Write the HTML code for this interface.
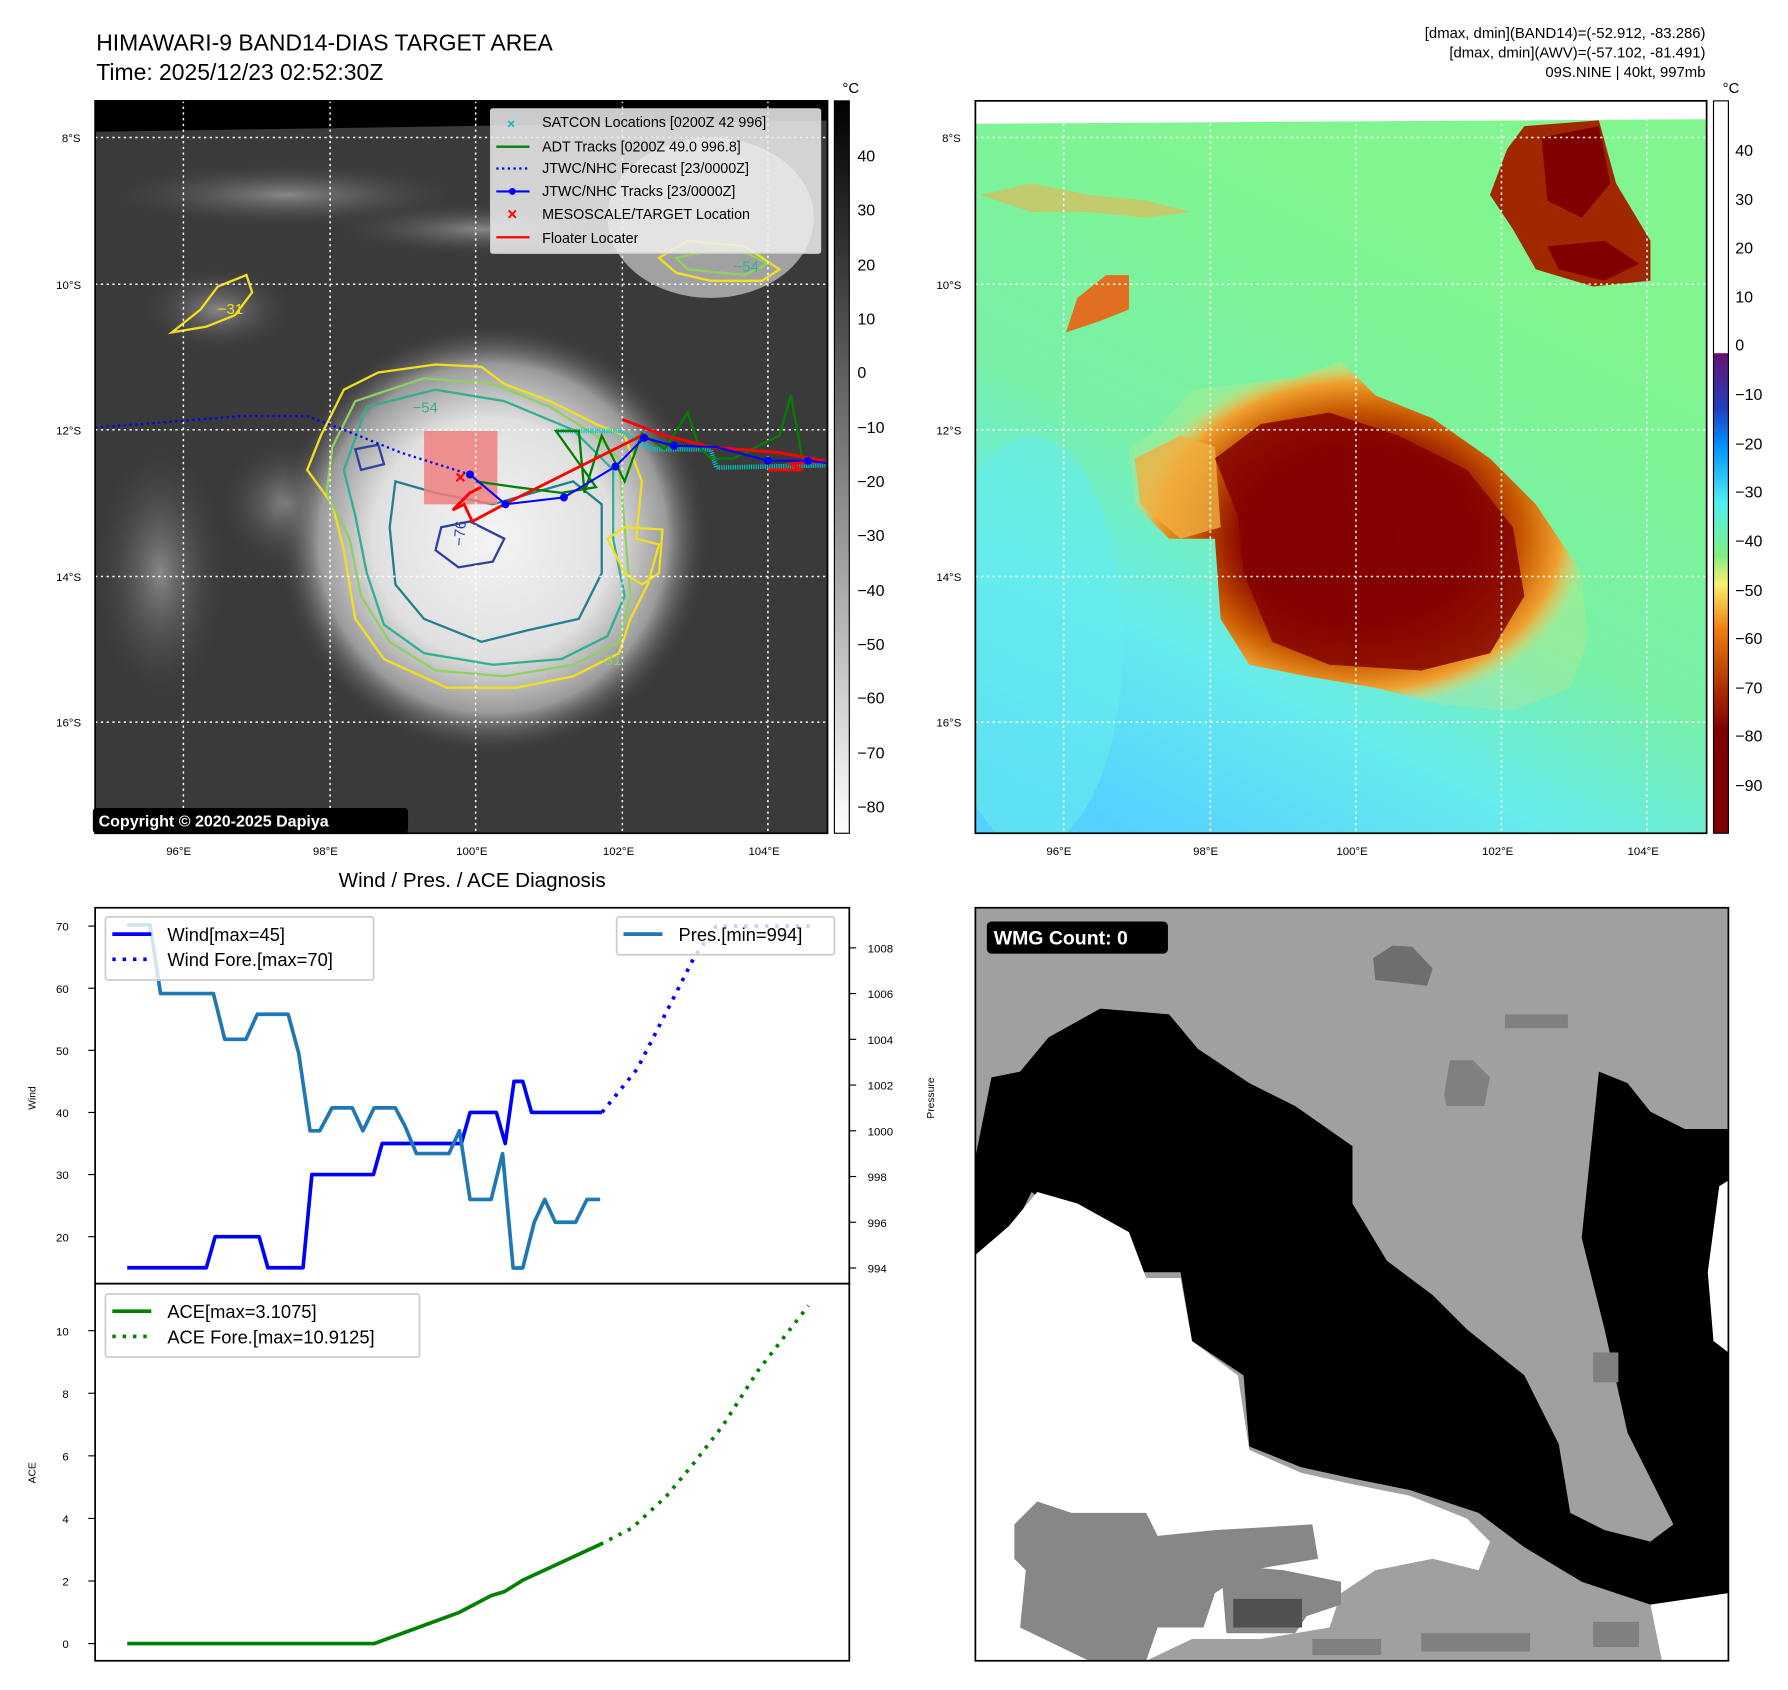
<!DOCTYPE html>
<html><head><meta charset="utf-8"><style>
html,body{margin:0;padding:0;background:#fff;}
svg{display:block;font-family:"Liberation Sans","DejaVu Sans",sans-serif;}
</style></head><body>
<svg id="root" width="1788" height="1690" viewBox="0 0 1560 1474.5" preserveAspectRatio="none" xmlns="http://www.w3.org/2000/svg">
<defs>
<clipPath id="cl1"><rect x="83" y="88" width="639" height="639"/></clipPath>
<clipPath id="cl2"><rect x="851" y="88" width="638" height="639"/></clipPath>
<radialGradient id="storm1" cx="0.5" cy="0.5" r="0.5">
<stop offset="0" stop-color="#f4f4f4"/><stop offset="0.55" stop-color="#e0e0e0"/><stop offset="0.8" stop-color="#9a9a9a"/><stop offset="1" stop-color="#3a3a3a" stop-opacity="0"/></radialGradient>
<radialGradient id="cloud1" cx="0.5" cy="0.5" r="0.5">
<stop offset="0" stop-color="#888"/><stop offset="1" stop-color="#3a3a3a" stop-opacity="0"/></radialGradient>
<linearGradient id="bg2" x1="0.6" y1="0.2" x2="0.2" y2="1">
<stop offset="0" stop-color="#80f590"/><stop offset="0.45" stop-color="#78f0a8"/><stop offset="0.7" stop-color="#66ecec"/><stop offset="1" stop-color="#55d0ff"/></linearGradient>
<radialGradient id="storm2" cx="0.5" cy="0.5" r="0.5">
<stop offset="0" stop-color="#800000"/><stop offset="0.5" stop-color="#8a0500"/><stop offset="0.72" stop-color="#c85a00"/><stop offset="0.88" stop-color="#f0a030"/><stop offset="1" stop-color="#f8e070" stop-opacity="0.2"/></radialGradient>
<linearGradient id="cb1" x1="0" y1="0" x2="0" y2="1"><stop offset="0" stop-color="#000"/><stop offset="1" stop-color="#fff"/></linearGradient>
<linearGradient id="cb2" x1="0" y1="0" x2="0" y2="1">
<stop offset="0" stop-color="#fff"/><stop offset="0.344" stop-color="#fff"/><stop offset="0.345" stop-color="#6a1070"/><stop offset="0.42" stop-color="#2040c0"/><stop offset="0.47" stop-color="#0090ff"/><stop offset="0.55" stop-color="#50f0f0"/><stop offset="0.62" stop-color="#80f080"/><stop offset="0.66" stop-color="#f8f070"/><stop offset="0.72" stop-color="#f08010"/><stop offset="0.8" stop-color="#b03000"/><stop offset="0.86" stop-color="#800000"/><stop offset="1" stop-color="#800000"/></linearGradient>
</defs>

<text x="84" y="44" font-size="20">HIMAWARI-9 BAND14-DIAS TARGET AREA</text>
<text x="84" y="70" font-size="20">Time: 2025/12/23 02:52:30Z</text>
<g font-size="13" text-anchor="end">
<text x="1488" y="33">[dmax, dmin](BAND14)=(-52.912, -83.286)</text>
<text x="1488" y="50">[dmax, dmin](AWV)=(-57.102, -81.491)</text>
<text x="1488" y="67">09S.NINE | 40kt, 997mb</text>
</g>

<!-- LEFT MAP -->
<g clip-path="url(#cl1)">
<rect x="83" y="88" width="639" height="639" fill="#3a3a3a"/>
<polygon points="83,88 722,88 722,105 83,115" fill="#000"/>
<ellipse cx="250" cy="170" rx="170" ry="30" fill="url(#cloud1)"/>
<ellipse cx="190" cy="270" rx="70" ry="40" fill="url(#cloud1)"/>
<ellipse cx="420" cy="200" rx="140" ry="25" fill="url(#cloud1)"/>
<ellipse cx="620" cy="190" rx="90" ry="70" fill="#bbb" opacity="0.8"/>
<ellipse cx="140" cy="500" rx="60" ry="120" fill="url(#cloud1)"/>
<ellipse cx="250" cy="440" rx="60" ry="60" fill="url(#cloud1)"/>
<ellipse cx="430" cy="470" rx="190" ry="190" fill="url(#storm1)"/>
<g fill="none" stroke-width="2">
<path d="M300,340 L330,325 L380,318 L420,320 L440,335 L480,350 L520,370 L545,380 L560,420 L555,470 L575,475 L565,510 L550,540 L540,570 L500,590 L450,600 L390,600 L335,575 L310,540 L300,480 L290,440 L268,410 L280,380 Z" stroke="#f0e020"/>
<path d="M310,350 L370,330 L430,335 L480,355 L520,380 L540,400 L545,460 L550,520 L540,560 L500,580 L440,590 L380,585 L340,560 L315,520 L305,470 L285,430 L290,390 Z" stroke="#90d060"/>
<path d="M320,355 L380,340 L440,350 L500,375 L535,410 L535,470 L545,520 L530,555 L490,575 L430,580 L370,570 L335,545 L320,500 L310,450 L300,410 Z" stroke="#30b090"/>
<path d="M345,420 L380,430 L430,440 L500,420 L525,440 L525,500 L505,540 L460,550 L420,560 L370,540 L345,510 L340,460 Z" stroke="#208090"/>
<path d="M385,460 L410,455 L440,470 L430,490 L400,495 L380,480 Z" stroke="#3040a0"/>
<path d="M310,392 L330,388 L335,405 L315,410 Z" stroke="#3040a0"/>
<path d="M575,225 L600,210 L650,215 L680,235 L665,245 L620,245 L590,238 Z" stroke="#f0e020"/>
<path d="M590,225 L640,215 L670,230 L650,240 L600,235 Z" stroke="#90d060"/>
<path d="M150,290 L175,270 L190,250 L215,240 L220,255 L205,275 L180,285 Z" stroke="#f0e020"/>
<path d="M530,470 L545,460 L578,462 L575,500 L560,510 L545,500 Z" stroke="#f0e020"/>
</g>
<g font-size="13" fill="#30b090">
<text x="360" y="360">−54</text><text x="640" y="237">−54</text><text x="190" y="274" fill="#f0e020">−31</text><text x="520" y="580" fill="#90d060">−31</text><text x="380" y="490" fill="#3040a0" transform="rotate(-85 385 470)">−76</text>
</g>
<rect x="370" y="376" width="64" height="64" fill="#f08080" opacity="0.85"/>
<g stroke="#fff" stroke-width="1.3" stroke-dasharray="2,3">
<line x1="160" y1="88" x2="160" y2="727"/><line x1="288" y1="88" x2="288" y2="727"/><line x1="415" y1="88" x2="415" y2="727"/><line x1="543" y1="88" x2="543" y2="727"/><line x1="670" y1="88" x2="670" y2="727"/>
<line x1="83" y1="120" x2="722" y2="120"/><line x1="83" y1="248" x2="722" y2="248"/><line x1="83" y1="375" x2="722" y2="375"/><line x1="83" y1="503" x2="722" y2="503"/><line x1="83" y1="630" x2="722" y2="630"/>
</g>
<polyline points="83,373 150,368 210,363 268,363 300,375 350,395 410,414" fill="none" stroke="#0000ff" stroke-width="2" stroke-dasharray="2,3"/>
<polyline points="485,376 540,376 570,392 620,392 625,408 720,406" fill="none" stroke="#00c8c8" stroke-width="4" stroke-dasharray="1,1"/>
<polyline points="415,420 450,425 490,430 520,425 485,376 505,376 510,430 525,380 545,420 560,378 580,392 600,360 610,390 620,400 640,400 680,380 690,345 700,400 720,402" fill="none" stroke="#008000" stroke-width="2"/>
<polyline points="543,366 580,380 620,390 680,395 720,402 690,405 700,410 670,410" fill="none" stroke="#ff0000" stroke-width="2.5"/>
<polyline points="560,380 480,420 440,440 412,455 405,440 395,445 410,430 420,425" fill="none" stroke="#ff0000" stroke-width="2.5"/>
<polyline points="410,414 441,440 492,434 537,407 562,382 588,389 625,390 670,402 705,402 722,404" fill="none" stroke="#0000ff" stroke-width="1.8"/>
<g fill="#0000ff"><circle cx="410" cy="414" r="3.5"/><circle cx="441" cy="440" r="3.5"/><circle cx="492" cy="434" r="3.5"/><circle cx="537" cy="407" r="3.5"/><circle cx="562" cy="382" r="3.5"/><circle cx="588" cy="389" r="3.5"/><circle cx="670" cy="402" r="3.5"/><circle cx="705" cy="402" r="3.5"/></g>
<text x="397" y="422" fill="#ff0000" font-size="16" font-weight="bold">×</text>
</g>
<rect x="83" y="88" width="639" height="639" fill="none" stroke="#000" stroke-width="1.5"/>
<g font-size="12.5">
<rect x="428" y="95" width="288" height="126" fill="#eee" fill-opacity="0.85" stroke="#ccc" rx="2"/>
<text x="446" y="112" fill="#00c0c0" font-size="12" font-weight="bold" text-anchor="middle">×</text><text x="473" y="111">SATCON Locations [0200Z 42 996]</text>
<line x1="433" y1="128" x2="462" y2="128" stroke="#008000" stroke-width="2"/><text x="473" y="132">ADT Tracks [0200Z 49.0 996.8]</text>
<line x1="433" y1="147" x2="462" y2="147" stroke="#00f" stroke-width="2" stroke-dasharray="2,3"/><text x="473" y="151">JTWC/NHC Forecast [23/0000Z]</text>
<line x1="433" y1="167" x2="462" y2="167" stroke="#00f" stroke-width="1.8"/><circle cx="447" cy="167" r="3" fill="#00f"/><text x="473" y="171">JTWC/NHC Tracks [23/0000Z]</text>
<text x="447" y="192" fill="#f00" font-size="15" font-weight="bold" text-anchor="middle">×</text><text x="473" y="191">MESOSCALE/TARGET Location</text>
<line x1="433" y1="207" x2="462" y2="207" stroke="#f00" stroke-width="2"/><text x="473" y="212">Floater Locater</text>
</g>
<rect x="81" y="705" width="275" height="22" rx="3" fill="#000"/>
<text x="86" y="721" fill="#fff" font-size="14" font-weight="bold">Copyright © 2020-2025 Dapiya</text>
<g font-size="10">
<text x="54" y="124">8°S</text><text x="49" y="252">10°S</text><text x="49" y="379">12°S</text><text x="49" y="507">14°S</text><text x="49" y="634">16°S</text>
<text x="145" y="746">96°E</text><text x="273" y="746">98°E</text><text x="398" y="746">100°E</text><text x="526" y="746">102°E</text><text x="653" y="746">104°E</text>
</g>
<rect x="728" y="88" width="13" height="639" fill="url(#cb1)" stroke="#000"/>
<text x="735" y="81" font-size="13">°C</text>
<g font-size="14">
<text x="748" y="141">40</text><text x="748" y="188">30</text><text x="748" y="236">20</text><text x="748" y="283">10</text><text x="748" y="330">0</text><text x="748" y="378">−10</text><text x="748" y="425">−20</text><text x="748" y="472">−30</text><text x="748" y="520">−40</text><text x="748" y="567">−50</text><text x="748" y="614">−60</text><text x="748" y="662">−70</text><text x="748" y="709">−80</text>
</g>

<!-- RIGHT MAP -->
<g clip-path="url(#cl2)">
<rect x="851" y="88" width="638" height="639" fill="url(#bg2)"/>
<polygon points="851,88 1489,88 1489,104 851,108" fill="#fff"/>
<ellipse cx="900" cy="560" rx="80" ry="180" fill="#66ecec" opacity="0.6"/>
<path d="M985,390 L1010,375 L1040,340 L1080,335 L1130,330 L1170,315 L1200,345 L1250,365 L1300,400 L1340,440 L1380,500 L1385,560 L1370,600 L1320,620 L1260,615 L1200,600 L1140,590 L1090,580 L1065,540 L1060,470 L1020,470 L990,440 Z" fill="url(#storm2)"/>
<path d="M990,400 L1030,380 L1060,390 L1065,460 L1030,470 L995,440 Z" fill="#f0b040" opacity="0.8"/>
<path d="M1060,400 L1100,370 L1160,360 L1220,380 L1280,410 L1320,460 L1330,520 L1300,570 L1240,585 L1160,580 L1110,560 L1085,500 L1080,450 Z" fill="#840200" opacity="0.85"/>
<path d="M1330,110 L1395,105 L1410,160 L1440,210 L1440,245 L1390,250 L1340,235 L1320,200 L1300,170 L1315,130 Z" fill="#a02800"/>
<path d="M1345,120 L1395,110 L1405,160 L1380,190 L1350,175 Z" fill="#800000"/>
<path d="M1350,215 L1400,210 L1430,230 L1400,245 L1360,235 Z" fill="#800000"/>
<path d="M940,260 L965,240 L985,240 L985,270 L960,280 L930,290 Z" fill="#e07020"/>
<path d="M855,170 L900,160 L950,170 L1000,175 L1040,185 L1000,190 L950,185 L900,185 Z" fill="#f0b050" opacity="0.6"/>
<g stroke="#fff" stroke-width="1.3" stroke-dasharray="2,3">
<line x1="928" y1="88" x2="928" y2="727"/><line x1="1056" y1="88" x2="1056" y2="727"/><line x1="1183" y1="88" x2="1183" y2="727"/><line x1="1310" y1="88" x2="1310" y2="727"/><line x1="1437" y1="88" x2="1437" y2="727"/>
<line x1="851" y1="120" x2="1489" y2="120"/><line x1="851" y1="248" x2="1489" y2="248"/><line x1="851" y1="375" x2="1489" y2="375"/><line x1="851" y1="503" x2="1489" y2="503"/><line x1="851" y1="630" x2="1489" y2="630"/>
</g>
</g>
<rect x="851" y="88" width="638" height="639" fill="none" stroke="#000" stroke-width="1.5"/>
<g font-size="10">
<text x="822" y="124">8°S</text><text x="817" y="252">10°S</text><text x="817" y="379">12°S</text><text x="817" y="507">14°S</text><text x="817" y="634">16°S</text>
<text x="913" y="746">96°E</text><text x="1041" y="746">98°E</text><text x="1166" y="746">100°E</text><text x="1293" y="746">102°E</text><text x="1420" y="746">104°E</text>
</g>
<rect x="1495" y="88" width="13" height="639" fill="url(#cb2)" stroke="#000"/>
<text x="1503" y="81" font-size="13">°C</text>
<g font-size="14">
<text x="1514" y="136">40</text><text x="1514" y="179">30</text><text x="1514" y="221">20</text><text x="1514" y="264">10</text><text x="1514" y="306">0</text><text x="1514" y="349">−10</text><text x="1514" y="392">−20</text><text x="1514" y="434">−30</text><text x="1514" y="477">−40</text><text x="1514" y="520">−50</text><text x="1514" y="562">−60</text><text x="1514" y="605">−70</text><text x="1514" y="647">−80</text><text x="1514" y="690">−90</text>
</g>

<!-- WMG panel -->
<g>
<rect x="851" y="792" width="657" height="657" fill="#a0a0a0"/>
<polygon points="851,1010 865,940 890,935 915,905 960,880 1020,885 1045,915 1090,945 1130,965 1180,1000 1180,1050 1210,1100 1250,1130 1280,1160 1330,1200 1360,1260 1370,1320 1400,1335 1440,1345 1460,1330 1420,1250 1400,1160 1380,1080 1395,935 1420,945 1440,970 1470,985 1508,985 1508,1390 1480,1410 1440,1400 1380,1380 1330,1350 1290,1320 1230,1300 1180,1290 1135,1280 1090,1262 1085,1200 1040,1170 1030,1110 985,1110 980,1075 940,1070 900,1040 880,1080 851,1095" fill="#000"/>
<polygon points="851,1095 880,1070 905,1040 940,1050 985,1075 1000,1115 1030,1115 1040,1170 1080,1200 1090,1265 1135,1285 1180,1295 1230,1305 1280,1325 1300,1345 1290,1370 1250,1360 1200,1370 1170,1390 1160,1420 1100,1430 1040,1430 1000,1449 851,1449" fill="#fff"/>
<polygon points="1500,1035 1508,1030 1508,1180 1495,1170 1490,1110" fill="#fff"/>
<polygon points="885,1330 905,1310 935,1320 1000,1320 1010,1340 1060,1335 1145,1330 1150,1360 1090,1370 1060,1390 1050,1420 1010,1420 1000,1449 950,1449 890,1420 895,1370 885,1360" fill="#878787"/>
<polygon points="1065,1365 1120,1370 1170,1380 1170,1400 1140,1410 1130,1425 1070,1425" fill="#878787"/>
<rect x="1076" y="1395" width="60" height="25" fill="#505050"/>
<polygon points="1198,836 1215,825 1232,826 1250,845 1245,860 1200,855" fill="#6e6e6e"/>
<rect x="1313" y="885" width="55" height="12" fill="#808080"/>
<polygon points="1260,955 1265,925 1285,925 1300,940 1295,965 1262,965" fill="#808080"/>
<rect x="1390" y="1180" width="22" height="26" fill="#808080"/>
<rect x="1145" y="1430" width="60" height="14" fill="#808080"/>
<rect x="1240" y="1425" width="95" height="16" fill="#808080"/>
<rect x="1390" y="1415" width="40" height="22" fill="#808080"/>
<polygon points="1440,1400 1508,1390 1508,1449 1450,1449" fill="#fff"/>
<rect x="851" y="792" width="657" height="657" fill="none" stroke="#000" stroke-width="1.5"/>
<rect x="861" y="804" width="158" height="28" rx="4" fill="#000"/>
<text x="867" y="824" fill="#fff" font-size="17" font-weight="bold">WMG Count: 0</text>
</g>

<text x="412" y="774" font-size="18" text-anchor="middle">Wind / Pres. / ACE Diagnosis</text>
<g id="chart"></g>
</svg>
<script>
const windT=[0,9,10,15,16,20,21,28,29,38,39,42,43,44,45,46,54];
const windV=[15,15,20,20,15,15,30,30,35,35,40,40,35,45,45,40,40];
const windFT=[54,58,62,64.5,66,67,78];
const windFV=[40,47,58,65,68,70,70];
const presT=[0,2.6,3.8,9.8,11.1,13.5,14.8,18.3,19.5,20.8,21.9,23.3,25.6,26.8,28.1,30.5,31.6,32.9,36.6,37.8,39,41.4,42.7,43.9,45,46.3,47.5,48.7,51,52.3,53.8];
const presV=[1009,1009,1006,1006,1004,1004,1005.1,1005.1,1003.4,1000,1000,1001,1001,1000,1001,1001,1000.2,999,999,1000,997,997,999,994,994,996,997,996,996,997,997];
const aceT=[0,28.1,32.6,37.8,41.4,42.9,45.1,53.8];
const aceV=[0,0,0.46,1.0,1.53,1.66,2.04,3.17];
const aceFT=[53.8,57.4,61.3,64.5,67.8,71.7,75,77.5];
const aceFV=[3.17,3.69,4.7,5.78,6.98,8.7,9.9,10.8];
const windTicks=[20,30,40,50,60,70];
const presTicks=[994,996,998,1000,1002,1004,1006,1008];
const aceTicks=[0,2,4,6,8,10];

const NS='http://www.w3.org/2000/svg';
const g=document.getElementById('chart');
const xs=t=>111+t*7.67;
const yw=v=>808+(70-v)*5.42;
const yp=p=>827+(1008-p)*19.95;
const ya=a=>1434-a*27.3;
function mk(tag,attrs,parent){const e=document.createElementNS(NS,tag);for(const k in attrs)e.setAttribute(k,attrs[k]);(parent||g).appendChild(e);return e;}
function line(T,V,fy,color,dash,name){
  const e=mk('polyline',{points:T.map((t,i)=>xs(t).toFixed(1)+','+fy(V[i]).toFixed(1)).join(' '),fill:'none',stroke:color,'stroke-width':3.2,'stroke-dasharray':dash||'none','stroke-linejoin':'round'});
  
  
}
mk('rect',{x:83,y:792,width:658,height:328,fill:'#fff',stroke:'#000','stroke-width':1.5});
mk('rect',{x:83,y:1120,width:658,height:329,fill:'#fff',stroke:'#000','stroke-width':1.5});
windTicks.forEach(v=>{mk('line',{x1:77,x2:83,y1:yw(v),y2:yw(v),stroke:'#000'});const t=mk('text',{x:60,y:yw(v)+4,'font-size':10,'text-anchor':'end'});t.textContent=v;
});
presTicks.forEach(v=>{mk('line',{x1:741,x2:747,y1:yp(v),y2:yp(v),stroke:'#000'});const t=mk('text',{x:757,y:yp(v)+4,'font-size':10});t.textContent=v;
});
aceTicks.forEach(v=>{mk('line',{x1:77,x2:83,y1:ya(v),y2:ya(v),stroke:'#000'});const t=mk('text',{x:60,y:ya(v)+4,'font-size':10,'text-anchor':'end'});t.textContent=v;
});
let lt=mk('text',{x:31,y:958,'font-size':9,'text-anchor':'middle',transform:'rotate(-90 31 958)'});lt.textContent='Wind';


lt=mk('text',{x:815,y:958,'font-size':9,'text-anchor':'middle',transform:'rotate(-90 815 958)'});lt.textContent='Pressure';


lt=mk('text',{x:31,y:1285,'font-size':9,'text-anchor':'middle',transform:'rotate(-90 31 1285)'});lt.textContent='ACE';


line(windT,windV,yw,'#0000ff',null,'wind-line');
line(windFT,windFV,yw,'#0000ff','3,6','wind-forecast-line');
line(presT,presV,yp,'#1f77b4',null,'pressure-line');
line(aceT,aceV,ya,'#008000',null,'ace-line');
line(aceFT,aceFV,ya,'#008000','3,6','ace-forecast-line');
function legend(x,y,w,h,items,name){
  const lg=mk('g',{});
  
  
  mk('rect',{x:x,y:y,width:w,height:h,fill:'#fff','fill-opacity':0.8,stroke:'#ccc','stroke-width':1.5,rx:2},lg);
  items.forEach((it,i)=>{const yy=y+15+i*22;mk('line',{x1:x+6,x2:x+40,y1:yy,y2:yy,stroke:it[1],'stroke-width':3.2,'stroke-dasharray':it[2]||'none'},lg);const t=mk('text',{x:x+54,y:yy+6,'font-size':16},lg);t.textContent=it[0];});
}
legend(92,800,234,55,[['Wind[max=45]','#0000ff'],['Wind Fore.[max=70]','#0000ff','3,6']],'wind-legend');
legend(538,800,190,33,[['Pres.[min=994]','#1f77b4']],'pressure-legend');
legend(92,1129,274,55,[['ACE[max=3.1075]','#008000'],['ACE Fore.[max=10.9125]','#008000','3,6']],'ace-legend');
</script>
</body></html>
